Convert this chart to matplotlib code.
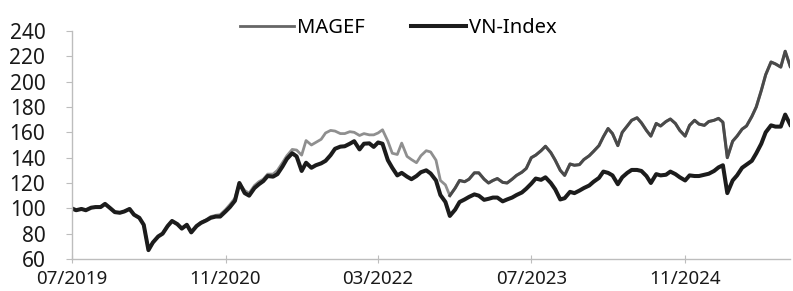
import matplotlib
matplotlib.use("Agg")
import matplotlib.pyplot as plt
import matplotlib.dates as mdates
import pandas as pd
import numpy as np

plt.rcParams['font.family'] = ['Noto Sans', 'DejaVu Sans']

# semi-monthly dates, values
dates = pd.date_range('2019-07-01', '2025-10-01', freq='SMS')

vn_index = [100, 98.5, 99.5, 98.5, 100.5, 101, 101, 103.5, 100, 97,
            96.5, 97.5, 99.5, 95, 92.5, 87, 67, 73, 77.8, 80,
            86, 90, 87.5, 84, 87, 81, 86, 88.5, 90.5, 92.5,
            93.5, 93.5, 97.5, 101, 106, 120, 112, 110, 116, 119,
            121.5, 125.5, 125, 127, 133, 139, 143.5, 141, 129.5, 136,
            132, 134, 135.5, 137.5, 142, 147, 148.7, 149, 151, 153,
            146.5, 151, 151.3, 148.5, 152, 151, 138, 132, 126, 128,
            125, 123, 125.5, 128.5, 130, 127.5, 122, 110.5, 105, 94,
            99, 105, 107, 109, 111, 110, 106.7, 107.5, 108.5, 108.5,
            105.5, 107, 108.5, 110.5, 112.5, 115.5, 119.5, 123.5, 122.5, 124.5,
            120, 115, 107, 108, 113, 112, 114, 116, 118, 121,
            124, 129, 128, 126, 119, 124.5, 128, 130.3, 130.3, 129.5,
            125.5, 120, 127, 126, 126.5, 129, 127, 124.5, 122, 126,
            125.5, 125.5, 126.5, 127.3, 129.5, 132.3, 134, 112, 122, 126,
            132, 134.5, 137.5, 143.4, 151, 160, 165.5, 164.5, 164.5, 174, 166]

magef = [100, 98.5, 99.5, 98.5, 100.5, 101, 101, 103.5, 100, 97,
         96.5, 97.5, 99.5, 95, 92.5, 87, 67, 73, 77.8, 80,
         86, 90, 87.5, 84, 87, 81, 86, 89, 91, 93.5,
         94.5, 95, 99, 103, 108, 120, 114, 112, 118, 121,
         123, 127, 127, 130, 136, 141.5, 146.5, 146, 142, 153.5,
         150, 152, 154.5, 159.5, 161.5, 161, 159, 159, 160.5, 160,
         157.5, 159, 158, 158, 159.5, 162, 153, 143.5, 142.5, 151.5,
         141, 138.5, 136, 141.5, 145.5, 144.5, 138, 122, 118.5, 110,
         116, 122, 121, 123, 128, 128, 123, 120, 122, 123.5,
         120.5, 120, 123, 126, 128.5, 131.5, 140, 142, 145.5, 149,
         144, 138, 130, 126, 135, 134, 134.5, 138.5, 141.5, 145,
         149.5, 156.5, 163, 159, 149.5, 160, 165, 169.5, 171.5, 167.5,
         161.5, 157, 167, 165, 168.5, 170.5, 167, 161.5, 157, 165.5,
         169.5, 166.5, 165.5, 168.5, 169.5, 171, 168, 140, 153, 157,
         162.5, 165, 172.5, 180, 193, 205.5, 215.5, 214, 211.5, 224, 212]

tick_dates = ['2019-07-01', '2020-11-01', '2022-03-01', '2023-07-01', '2024-11-01']
tick_labels = ['07/2019', '11/2020', '03/2022', '07/2023', '11/2024']

s_vn = pd.Series(vn_index, index=dates)
s_mg = pd.Series(magef, index=dates)
split = pd.Timestamp('2022-10-15')

fig = plt.figure(figsize=(7.93, 2.91), dpi=100)
ax = fig.add_axes([0.0904, 0.110, 0.9061, 0.7835])

ax.plot(s_mg.index, s_mg.values, '-', color='#8f8f8f', linewidth=2.0, label='MAGEF')
late = s_mg[s_mg.index >= split]
ax.plot(late.index, late.values, '-', color='#4a4a4a', linewidth=2.2)
ax.plot(s_vn.index, s_vn.values, '-', color='#1c1c1c', linewidth=2.9, label='VN-Index')

ax.set_xlim(dates[0], dates[-1])
ax.set_ylim(60, 240)
ax.set_yticks(np.arange(60, 241, 20))
ax.set_xticks(pd.to_datetime(tick_dates))
ax.set_xticklabels(tick_labels)

for side in ['top', 'right']:
    ax.spines[side].set_visible(False)
for side in ['left', 'bottom']:
    ax.spines[side].set_color('#bdbdbd')
    ax.spines[side].set_linewidth(1.0)

ax.tick_params(axis='y', length=4, color='#bdbdbd', pad=15, labelsize=15, labelcolor='#1a1a1a')
ax.tick_params(axis='x', direction='inout', length=6, color='#bdbdbd', pad=5, labelsize=13.5, labelcolor='#1a1a1a')

handles, labels = ax.get_legend_handles_labels()
handles[0].set_color('#666666')
leg = fig.legend(handles, labels, loc='center', bbox_to_anchor=(0.502, 0.904), ncol=2,
                 frameon=False, fontsize=14.5, handlelength=2.7, handletextpad=0.15,
                 columnspacing=2.3, borderaxespad=0)
handles[0].set_color('#8f8f8f')

fig.savefig('out.png', dpi=100)
